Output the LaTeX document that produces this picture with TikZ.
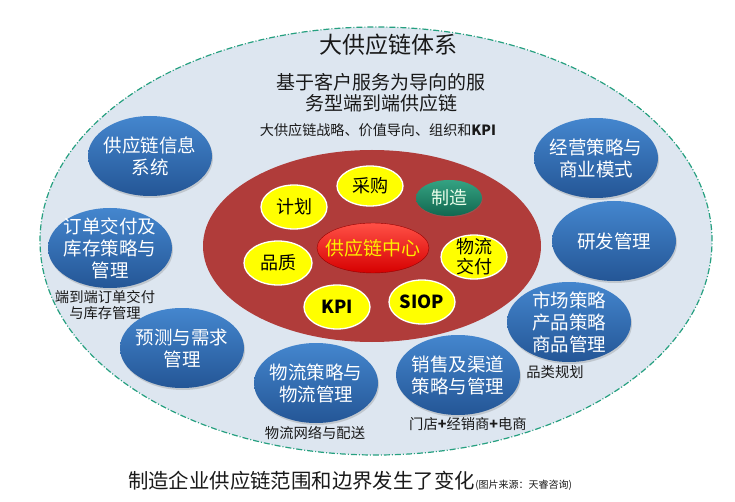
\documentclass[tikz,border=0pt]{standalone}
\usepackage{fontspec}
\setmainfont{Noto Sans CJK SC}
\usetikzlibrary{positioning, shapes.geometric, shadows}
\definecolor{outerFill}{RGB}{221,230,240}
\definecolor{outerBrd}{RGB}{38,160,128}
\definecolor{coreFill}{RGB}{176,60,58}
\definecolor{bluTop}{RGB}{68,134,206}
\definecolor{bluBot}{RGB}{36,86,150}
\definecolor{yelFill}{RGB}{255,255,0}
\definecolor{grnTop}{RGB}{52,162,130}
\definecolor{grnBot}{RGB}{18,104,80}
\definecolor{hubTop}{RGB}{255,80,70}
\definecolor{hubBot}{RGB}{214,0,0}
\definecolor{hubTxt}{RGB}{255,238,0}
\definecolor{inkTxt}{RGB}{25,25,25}
\tikzset{
  every node/.style={font=\fontsize{14.3}{15.5}\selectfont, text=inkTxt, inner sep=0pt},
  E/.style={ellipse, inner sep=0pt},
  OUTER/.style={E, fill=outerFill, draw=outerBrd, line width=1.2pt,
    dash pattern=on 6pt off 2pt on 1pt off 2pt},
  CORE/.style={E, fill=coreFill},
  BLU/.style={E, top color=bluTop, bottom color=bluBot, minimum width=124pt, minimum height=80pt,
    drop shadow={shadow xshift=1pt, shadow yshift=-2pt, opacity=.3}},
  BLUtxt/.style={align=center, text=white, font=\fontsize{18.5}{22}\selectfont},
  YEL/.style={E, fill=yelFill, draw=white, line width=1.3pt, minimum width=66pt, minimum height=44pt,
    drop shadow={shadow xshift=0.5pt, shadow yshift=-1pt, opacity=.25}},
  YELtxt/.style={align=center, text=black, font=\fontsize{18}{20}\selectfont},
  GRN/.style={E, top color=grnTop, bottom color=grnBot, minimum width=66pt, minimum height=36pt,
    drop shadow={shadow xshift=0.5pt, shadow yshift=-1pt, opacity=.3}},
  GRNtxt/.style={text=white!92!green, font=\fontsize{18}{20}\selectfont},
  HUB/.style={E, top color=hubTop, bottom color=hubBot, draw=hubBot!70!black, line width=0.4pt,
    minimum width=112pt, minimum height=50pt},
  HUBtxt/.style={text=hubTxt, font=\fontsize{19}{22}\selectfont},
  NOTE/.style={align=center, font=\fontsize{14.3}{15.5}\selectfont},
}
% shape node first, then its text on top
\newcommand{\blob}[5][]{\node[#2,#1] (#3) at (#4) {}; \node[#2txt] (#3txt) at (#4) {#5};}

\begin{document}
\begin{tikzpicture}[x=1pt, y=1pt, yscale=-1]
\useasboundingbox (0,0) rectangle (735,502);

%% ═══════════════════════════════════════════════════════════════════════════
%%  Outer scope and header
%% ═══════════════════════════════════════════════════════════════════════════

\node[OUTER, minimum width=672pt, minimum height=428pt] (SCOPE) at (376,241) {};
\node[font=\fontsize{23}{26}\selectfont] (TITLE) at (388,45) {大供应链体系};
\node[align=center, font=\fontsize{19}{21}\selectfont] (SUB) at (381,92.5)
  {基于客户服务为导向的服\\务型端到端供应链};
\node[font=\fontsize{14.1}{15}\selectfont] (STRAT) at (378,130)
  {大供应链战略、价值导向、组织和\textbf{KPI}};

%% ═══════════════════════════════════════════════════════════════════════════
%%  Core: supply chain centre
%% ═══════════════════════════════════════════════════════════════════════════

\node[CORE, minimum width=338pt, minimum height=192pt] (CORE) at (372,246) {};

\blob{YEL}{PLAN}{294,207}{计划}
\blob[minimum height=40pt]{YEL}{PROC}{370,186}{采购}
\blob{GRN}{MFG}{449,198}{制造}
\blob{HUB}{HUB}{373,248}{供应链中心}
\blob[minimum width=68pt]{YEL}{QUAL}{278,263}{品质}
\blob{YEL}{DELIV}{474,257}{物流\\交付}
\blob{YEL}{KPI}{337,307}{\textbf{KPI}}
\blob{YEL}{SIOP}{422,302}{\textbf{SIOP}}

%% ═══════════════════════════════════════════════════════════════════════════
%%  Ring of functions
%% ═══════════════════════════════════════════════════════════════════════════

\blob{BLU}{INFO}{150,156}{供应链信息\\系统}
\blob{BLU}{ORDER}{110,248}{订单交付及\\库存策略与\\管理}
\blob{BLU}{FCST}{182,348}{预测与需求\\管理}
\blob{BLU}{LOGI}{316,383}{物流策略与\\物流管理}
\blob{BLU}{SALES}{458,375}{销售及渠道\\策略与管理}
\blob{BLU}{MKT}{569,322}{市场策略\\产品策略\\商品管理}
\blob{BLU}{BIZ}{596,158}{经营策略与\\商业模式}
\blob{BLU}{RND}{614,241}{研发管理}

\node[NOTE] (ORDERn) at (105,305) {端到端订单交付\\与库存管理};
\node[NOTE] (LOGIn) at (315,433) {物流网络与配送};
\node[NOTE] (SALESn) at (468,424) {门店\textbf{+}经销商\textbf{+}电商};
\node[NOTE] (MKTn) at (555,372) {品类规划};

%% Caption
\node[font=\fontsize{20.4}{24}\selectfont] (CAP) at (301.5,481) {制造企业供应链范围和边界发生了变化};
\node[anchor=base west, font=\fontsize{10}{12}\selectfont] (SRC) at (CAP.base east)
  {(图片来源：天睿咨询)};

\end{tikzpicture}
\end{document}
